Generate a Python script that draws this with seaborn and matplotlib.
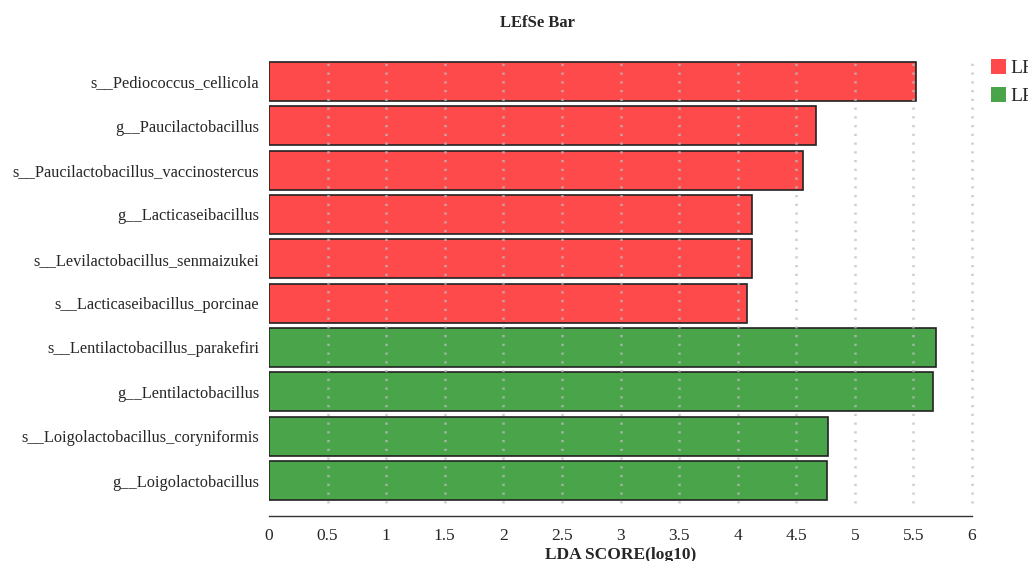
import matplotlib
matplotlib.use("Agg")
import matplotlib.pyplot as plt
import seaborn as sns
import pandas as pd
from matplotlib.patches import Patch

# Taxa ranked by LDA score, grouped by enriched group
taxa = [
    "s__Pediococcus_cellicola",
    "g__Paucilactobacillus",
    "s__Paucilactobacillus_vaccinostercus",
    "g__Lacticaseibacillus",
    "s__Levilactobacillus_senmaizukei",
    "s__Lacticaseibacillus_porcinae",
    "s__Lentilactobacillus_parakefiri",
    "g__Lentilactobacillus",
    "s__Loigolactobacillus_coryniformis",
    "g__Loigolactobacillus",
]
lda_scores = [5.52, 4.67, 4.56, 4.12, 4.12, 4.08, 5.69, 5.67, 4.77, 4.76]
groups = ["LF", "LF", "LF", "LF", "LF", "LF", "LP", "LP", "LP", "LP"]
group_names = ["LF", "LP"]
group_colors = ["#FF4A4C", "#4AA54A"]
x_ticks = [0, 0.5, 1, 1.5, 2, 2.5, 3, 3.5, 4, 4.5, 5, 5.5, 6]
x_tick_labels = ["0", "0.5", "1", "1.5", "2", "2.5", "3", "3.5", "4", "4.5", "5", "5.5", "6"]

df = pd.DataFrame({"taxon": taxa, "lda": lda_scores, "group": groups})

sns.set_theme(style="white")
plt.rcParams["font.family"] = ["Liberation Serif", "DejaVu Serif"]

fig = plt.figure(figsize=(10.28, 5.61), dpi=100)
ax = fig.add_axes([269 / 1028, 45 / 561, 703 / 1028, 459 / 561])

palette = dict(zip(group_names, group_colors))
sns.barplot(
    data=df, x="lda", y="taxon", hue="group", palette=palette,
    order=taxa, hue_order=group_names, dodge=False, orient="h",
    width=0.88, edgecolor="#222222", linewidth=1.2, saturation=1,
    legend=False, ax=ax, zorder=2,
)

ax.set_xlim(0, 6)
ax.set_ylim(len(taxa) - 1 + 0.8, -0.55)

# dotted vertical guides at every tick
for xv in x_ticks[1:]:
    ax.axvline(xv, ymin=0.028, ymax=1.0, color="#bdbdbd", linestyle=(0, (0.9, 2.6)),
               linewidth=1.8, zorder=3, alpha=0.75, clip_on=False)

for side in ["top", "right", "left"]:
    ax.spines[side].set_visible(False)
ax.spines["bottom"].set_color("#333333")
ax.spines["bottom"].set_linewidth(1.0)

ax.set_xticks(x_ticks)
ax.set_xticklabels(x_tick_labels, fontsize=12.5)
ax.tick_params(axis="x", direction="out", length=6, width=1, color="#333333", pad=3)
ax.tick_params(axis="y", length=0, pad=7, labelsize=11.8)
ax.set_ylabel("")
ax.set_xlabel("LDA SCORE(log10)", fontsize=12.5, fontweight="bold", labelpad=2)

fig.text(537 / 1028, 1 - 23 / 561, "LEfSe Bar", ha="center", va="center",
         fontsize=12, fontweight="bold")

handles = [Patch(facecolor=c, edgecolor="none", label=g) for g, c in zip(group_names, group_colors)]
fig.legend(handles=handles, loc="upper left", bbox_to_anchor=(987 / 1028, 1 - 55 / 561),
           frameon=False, fontsize=14, handlelength=0.8, handleheight=0.8,
           handletextpad=0.2, labelspacing=0.5, borderaxespad=0, borderpad=0.2)

fig.savefig("out.png", dpi=100)
